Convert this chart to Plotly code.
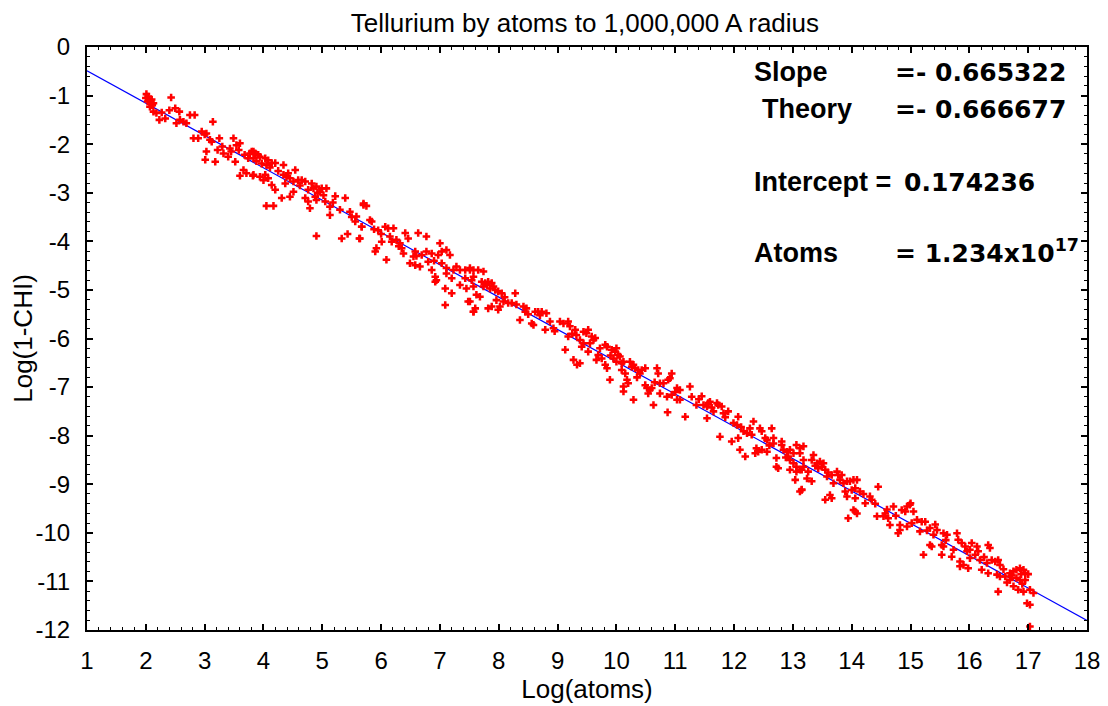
import plotly.graph_objects as go

# ---- data ----
title_text = "Tellurium by atoms to 1,000,000 A radius"
slope = -0.665322
theory = -0.666677
intercept = 0.174236
atoms_mant = "1.234"
atoms_exp = "17"

x_ticks = list(range(1, 19))
y_ticks = list(range(0, -13, -1))

pts_a = [
    (2.01, -0.97), (2.06, -1.08), (2.03, -1.12), (2.10, -1.08), (2.13, -1.16), (2.07, -1.23),
    (2.00, -1.05), (2.04, -1.02), (2.08, -1.14), (2.11, -1.20),
    (2.13, -1.33), (2.18, -1.36), (2.23, -1.50), (2.27, -1.35), (2.33, -1.47), (2.43, -1.04),
    (2.40, -1.30), (2.50, -1.26), (2.57, -1.33), (2.52, -1.57), (2.58, -1.50), (2.64, -1.54),
    (2.69, -1.57), (2.75, -1.40), (2.83, -1.40), (3.14, -1.54), (2.95, -1.74), (2.81, -1.88),
    (2.89, -1.88), (3.03, -1.78), (3.09, -1.91), (3.25, -1.88), (3.03, -2.15), (3.01, -2.32),
    (3.18, -2.36), (3.22, -2.12), (3.32, -2.19), (3.40, -2.26), (3.49, -1.88), (3.54, -2.02),
    (3.60, -1.98), (3.43, -2.09), (3.52, -2.36), (3.77, -2.19), (3.83, -2.15), (3.74, -2.29),
    (3.66, -2.53), (3.60, -2.65), (3.71, -2.60), (3.82, -2.65),
    (3.00, -1.80), (3.12, -1.95), (3.30, -2.05), (3.45, -2.15), (3.58, -2.12), (3.68, -2.22),
]
pts_b = [
    (3.80, -2.15), (3.86, -2.19), (3.91, -2.22), (3.83, -2.29), (3.94, -2.26), (4.03, -2.29),
    (4.08, -2.33), (4.14, -2.39), (4.20, -2.39), (4.34, -2.43), (4.05, -2.43), (3.83, -2.63),
    (3.94, -2.67), (4.03, -2.63), (4.08, -2.70), (4.00, -2.74), (4.14, -2.84), (4.20, -2.94),
    (4.31, -3.11), (4.45, -3.08), (4.51, -2.98), (4.37, -2.81), (4.34, -2.63), (4.39, -2.67),
    (4.45, -2.70), (4.54, -2.53), (4.51, -2.77), (4.59, -2.74), (4.65, -2.74), (4.71, -2.77),
    (4.82, -2.81), (4.85, -2.91), (4.90, -2.87), (4.99, -2.91), (5.07, -2.91), (4.96, -2.98),
    (4.76, -2.94), (4.71, -3.11), (4.76, -3.18), (4.79, -3.32), (4.88, -3.08), (4.90, -3.15),
    (5.05, -3.18), (5.13, -3.29), (5.22, -3.07), (5.39, -3.11), (5.13, -3.46), (5.30, -3.35),
    (5.47, -3.39), (5.58, -3.49), (5.67, -3.70), (5.70, -3.25), (5.56, -3.59), (4.05, -3.27),
    (4.17, -3.27), (4.90, -3.89), (5.33, -3.94), (5.43, -3.85), (5.63, -3.94),
    (3.88, -2.35), (3.97, -2.40), (4.11, -2.48), (4.25, -2.55), (4.42, -2.60), (4.62, -2.85),
    (4.92, -3.00), (5.02, -3.05), (5.18, -3.20), (5.50, -3.50),
]
pts_c = [
    (5.70, -3.22), (5.75, -3.27), (5.67, -3.70), (5.64, -3.94), (5.81, -3.56), (5.84, -3.59),
    (5.95, -3.77), (6.07, -3.70), (6.12, -3.73), (6.21, -3.73), (6.01, -4.01), (5.92, -4.14),
    (5.90, -4.21), (6.09, -4.38), (6.18, -4.01), (6.26, -3.97), (6.32, -4.04), (6.35, -4.14),
    (6.41, -3.83), (6.46, -3.94), (6.38, -4.25), (6.58, -4.21), (6.55, -4.31), (6.49, -4.45),
    (6.58, -4.49), (6.66, -4.52), (6.69, -4.28), (6.77, -4.21), (6.80, -4.42), (6.86, -4.25),
    (6.63, -3.83), (6.77, -3.90), (7.00, -4.04), (7.03, -4.21), (6.97, -4.28), (7.11, -4.18),
    (7.17, -4.28), (7.03, -4.45), (7.11, -4.55), (6.86, -4.59), (6.92, -4.73), (6.94, -4.80),
    (6.92, -4.83), (7.11, -4.66), (7.23, -4.59), (7.28, -4.52), (7.34, -4.59), (7.43, -4.59),
    (7.51, -4.59), (7.20, -4.76), (7.34, -4.90), (7.45, -4.97), (7.43, -4.76), (7.54, -4.80),
    (7.57, -4.93), (7.09, -4.97), (7.20, -5.07), (7.09, -5.31), (7.48, -5.24), (7.57, -5.45),
    (5.88, -3.75), (6.00, -3.85), (6.15, -3.90), (6.30, -4.10), (6.60, -4.30), (6.90, -4.40),
]
pts_d = [
    (7.51, -4.55), (7.57, -4.59), (7.65, -4.59), (7.74, -4.62), (7.57, -4.73), (7.71, -4.83),
    (7.77, -4.86), (7.82, -4.83), (7.88, -4.86), (7.74, -4.93), (7.85, -4.97), (7.91, -4.93),
    (7.94, -5.00), (7.99, -5.03), (8.05, -5.07), (7.51, -5.24), (7.62, -5.10), (7.68, -5.14),
    (7.60, -5.38), (7.57, -5.45), (7.82, -5.38), (7.88, -5.34), (8.02, -5.34), (7.99, -5.41),
    (7.96, -5.21), (8.08, -5.24), (8.16, -5.27), (8.22, -5.27), (8.28, -5.07), (8.36, -5.62),
    (8.42, -5.34), (8.47, -5.38), (8.45, -5.45), (8.56, -5.69), (8.59, -5.72), (8.62, -5.45),
    (8.67, -5.45), (8.73, -5.45), (8.81, -5.48), (8.70, -5.52), (8.87, -5.65), (8.79, -5.82),
    (8.93, -5.79), (9.04, -5.65), (9.10, -5.69), (9.18, -5.65), (9.13, -6.23), (9.21, -5.75),
    (9.18, -5.96), (9.30, -5.82), (9.32, -5.93), (9.38, -6.03), (9.44, -6.10), (9.41, -6.17),
    (9.27, -6.44), (9.33, -6.54),
    (7.80, -4.90), (8.10, -5.15), (8.30, -5.30), (8.50, -5.50), (8.95, -5.85), (9.25, -5.90),
]
pts_e = [
    (9.44, -5.86), (9.49, -5.89), (9.52, -5.82), (9.58, -5.96), (9.61, -6.03), (9.64, -5.99),
    (9.38, -6.51), (9.52, -6.27), (9.69, -6.34), (9.75, -6.41), (9.66, -6.44), (9.81, -6.13),
    (9.84, -6.17), (9.81, -6.54), (9.84, -6.61), (9.89, -6.85), (9.92, -6.23), (9.98, -6.27),
    (10.00, -6.20), (10.03, -6.34), (9.95, -6.41), (10.00, -6.48), (10.06, -6.37), (10.12, -6.48),
    (10.09, -6.51), (10.09, -6.65), (10.15, -6.72), (10.18, -6.85), (10.20, -6.92), (10.12, -7.09),
    (10.12, -6.99), (10.23, -6.48), (10.29, -6.54), (10.26, -6.58), (10.29, -7.26), (10.32, -6.61),
    (10.37, -6.65), (10.43, -6.65), (10.49, -6.61), (10.40, -6.72), (10.49, -6.96), (10.52, -7.02),
    (10.60, -7.02), (10.54, -7.13), (10.57, -7.06), (10.63, -7.37), (10.69, -6.61), (10.71, -6.72),
    (10.74, -6.92), (10.80, -6.92), (10.74, -7.13), (10.88, -6.85), (10.94, -6.72), (10.91, -6.82),
    (10.86, -7.20), (10.94, -7.16), (11.03, -7.02), (11.08, -7.06), (11.03, -7.26), (11.08, -7.26),
    (10.87, -7.52), (11.17, -7.61), (11.25, -6.99), (11.28, -7.20),
    (9.55, -6.10), (9.72, -6.20), (9.90, -6.35), (10.35, -6.80), (10.65, -6.90), (11.00, -7.10),
]
pts_f = [
    (11.36, -7.37), (11.45, -7.19), (11.48, -7.37), (11.56, -7.33), (11.59, -7.30), (11.54, -7.40),
    (11.54, -7.64), (11.65, -7.50), (11.71, -7.33), (11.79, -7.40), (11.73, -7.37), (11.82, -7.54),
    (11.90, -7.50), (11.76, -8.02), (11.96, -8.12), (12.07, -7.61), (11.99, -7.74), (12.05, -7.78),
    (12.07, -8.05), (12.10, -8.29), (12.19, -8.43), (12.16, -7.91), (12.22, -7.95), (12.27, -7.85),
    (12.30, -7.98), (12.33, -7.71), (12.44, -7.85), (12.47, -7.91), (12.38, -8.26), (12.41, -8.33),
    (12.36, -8.36), (12.47, -8.29), (12.56, -8.33), (12.53, -8.05), (12.56, -8.09), (12.64, -7.85),
    (12.67, -8.05), (12.67, -8.16), (12.81, -8.12), (12.81, -8.19), (12.72, -8.46), (12.75, -8.67),
    (12.72, -8.64), (12.84, -8.29), (12.90, -8.33), (12.95, -8.29), (12.92, -8.43), (13.01, -8.36),
    (13.06, -8.19), (13.12, -8.26), (12.95, -8.50), (13.01, -8.57), (13.06, -8.64), (13.12, -8.70),
    (12.95, -8.70), (13.06, -8.74), (13.04, -8.91), (13.12, -9.15), (13.15, -9.12), (13.18, -8.50),
    (13.18, -8.64),
    (11.40, -7.25), (11.62, -7.42), (11.85, -7.62), (12.12, -7.82), (12.60, -8.20), (12.88, -8.45),
]
pts_g = [
    (13.18, -8.22), (13.12, -8.36), (13.15, -8.70), (13.15, -9.11), (13.26, -8.74), (13.24, -8.88),
    (13.32, -8.94), (13.35, -8.40), (13.32, -8.50), (13.41, -8.57), (13.46, -8.53), (13.49, -8.64),
    (13.52, -8.57), (13.43, -8.67), (13.55, -8.70), (13.58, -8.84), (13.66, -8.81), (13.69, -8.98),
    (13.75, -8.74), (13.77, -8.81), (13.80, -8.91), (13.83, -8.81), (13.86, -8.98), (13.92, -8.94),
    (13.97, -8.94), (14.03, -8.91), (14.09, -8.91), (13.55, -9.32), (13.63, -9.22), (13.66, -9.29),
    (13.89, -9.15), (13.92, -9.25), (14.00, -9.12), (14.06, -9.08), (14.14, -9.15), (14.06, -9.29),
    (13.94, -9.70), (14.03, -9.53), (14.09, -9.60), (14.06, -9.56), (14.31, -9.25), (14.23, -9.39),
    (14.34, -9.32), (14.45, -9.05), (14.43, -9.66), (14.54, -9.66), (14.62, -9.70), (14.57, -9.60),
    (14.71, -9.46), (14.65, -9.84), (14.82, -9.84), (14.79, -10.01), (14.82, -9.94), (14.85, -9.53),
    (14.91, -9.56), (14.94, -9.46), (15.00, -9.39), (14.94, -9.87), (15.02, -9.80),
    (13.38, -8.62), (13.60, -8.76), (14.20, -9.20), (14.40, -9.40), (14.60, -9.52), (14.75, -9.65),
]
pts_h = [
    (14.99, -9.42), (15.05, -9.56), (15.11, -9.73), (15.19, -9.77), (15.25, -9.77), (15.16, -9.97),
    (15.22, -10.45), (15.33, -9.90), (15.42, -9.83), (15.45, -9.94), (15.39, -10.04), (15.33, -10.25),
    (15.36, -10.28), (15.56, -10.01), (15.62, -10.04), (15.53, -10.25), (15.56, -10.28), (15.53, -10.45),
    (15.70, -10.49), (15.73, -10.35), (15.79, -10.01), (15.81, -10.14), (15.87, -10.21), (15.84, -10.59),
    (15.93, -10.28), (15.96, -10.38), (16.04, -10.21), (16.01, -10.35), (16.13, -10.28), (16.15, -10.38),
    (16.10, -10.45), (16.01, -10.52), (15.84, -10.69), (15.98, -10.73), (15.90, -10.66), (16.18, -10.56),
    (16.21, -10.76), (16.30, -10.62), (16.32, -10.25), (16.35, -10.31), (16.38, -10.56), (16.44, -10.59),
    (16.49, -10.56), (16.52, -10.66), (16.32, -10.83), (16.47, -10.86), (16.52, -10.90), (16.49, -11.21),
    (16.61, -10.90), (16.69, -10.83), (16.75, -10.79), (16.80, -10.76), (16.86, -10.73), (16.92, -10.76),
    (16.95, -10.83), (16.80, -10.93), (16.69, -10.97), (16.86, -10.97), (16.95, -10.97), (16.75, -11.10),
    (16.83, -11.17), (16.92, -11.21), (17.03, -11.17), (17.09, -11.24), (16.98, -11.45), (17.03, -11.48),
    (17.03, -11.93),
    (15.28, -9.95), (15.60, -10.15), (16.25, -10.50), (16.58, -10.75), (17.00, -10.85),
    (16.72, -10.88), (16.88, -10.85), (16.64, -11.02), (16.90, -11.05),
]

all_pts = pts_a + pts_b + pts_c + pts_d + pts_e + pts_f + pts_g + pts_h
pts_x = [p[0] for p in all_pts]
pts_y = [p[1] for p in all_pts]

line_x = [1, 18]
line_y = [intercept + slope * v for v in line_x]

fig = go.Figure()
fig.add_trace(go.Scatter(
    x=line_x, y=line_y, mode="lines",
    line=dict(color="#0000ff", width=1.2), hoverinfo="skip"))
fig.add_trace(go.Scatter(
    x=pts_x, y=pts_y, mode="markers",
    marker=dict(symbol="cross", size=6.3, color="#ff0000", line=dict(width=0))))

sans = "Liberation Sans, Arial, sans-serif"
tick_font = dict(family=sans, size=24, color="#000")
axis_common = dict(
    showgrid=False, zeroline=False, showline=True, linecolor="#000", linewidth=2,
    mirror="allticks", ticks="inside", ticklen=6, tickwidth=1.5, tickcolor="#000",
    tickfont=tick_font, automargin=False,
    minor=dict(ticks="inside", ticklen=3, tickwidth=1.2, tickcolor="#000", dtick=0.2, showgrid=False),
)

fig.update_xaxes(range=[1, 18], tickmode="array", tickvals=x_ticks,
                 ticktext=[str(v) for v in x_ticks], ticklabelstandoff=8,
                 title=dict(text="Log(atoms)", font=dict(family=sans, size=26, color="#000"), standoff=2),
                 **axis_common)
fig.update_yaxes(range=[-12, 0], tickmode="array", tickvals=y_ticks,
                 ticktext=[str(v) for v in y_ticks], ticklabelstandoff=10,
                 title=dict(text="Log(1-CHI)", font=dict(family=sans, size=26, color="#000"), standoff=6),
                 **axis_common)

lab_font = dict(family="Liberation Sans, Arial, sans-serif", size=27, color="#000")
val_font = dict(family="DejaVu Sans, sans-serif", size=25, color="#000")
labels = [
    ("<b>Slope</b>", 0.665, 0.928),
    ("<b>Theory</b>", 0.673, 0.8645),
    ("<b>Intercept =</b>", 0.665, 0.739),
    ("<b>Atoms</b>", 0.665, 0.6175),
]
values = [
    ("<b>=- %.6f</b>" % abs(slope), 0.806, 0.928),
    ("<b>=- %.6f</b>" % abs(theory), 0.806, 0.8645),
    ("<b>%.6f</b>" % intercept, 0.815, 0.739),
    ("<b>= %sx10<sup>%s</sup></b>" % (atoms_mant, atoms_exp), 0.806, 0.6175),
]
anns = []
for txt, xx, yy in labels:
    anns.append(dict(text=txt, x=xx, y=yy, xref="paper", yref="paper",
                     xanchor="left", yanchor="bottom", showarrow=False, font=lab_font))
for txt, xx, yy in values:
    anns.append(dict(text=txt, x=xx, y=yy, xref="paper", yref="paper",
                     xanchor="left", yanchor="bottom", showarrow=False, font=val_font))

fig.update_layout(
    width=1100, height=698,
    margin=dict(l=79, r=21, t=39, b=76),
    paper_bgcolor="#fff", plot_bgcolor="#fff",
    showlegend=False,
    title=dict(text=title_text, x=0.5245, xanchor="center", y=0.9785, yanchor="middle",
               font=dict(family=sans, size=26, color="#000")),
    annotations=anns,
)

fig.write_html("out.html")
